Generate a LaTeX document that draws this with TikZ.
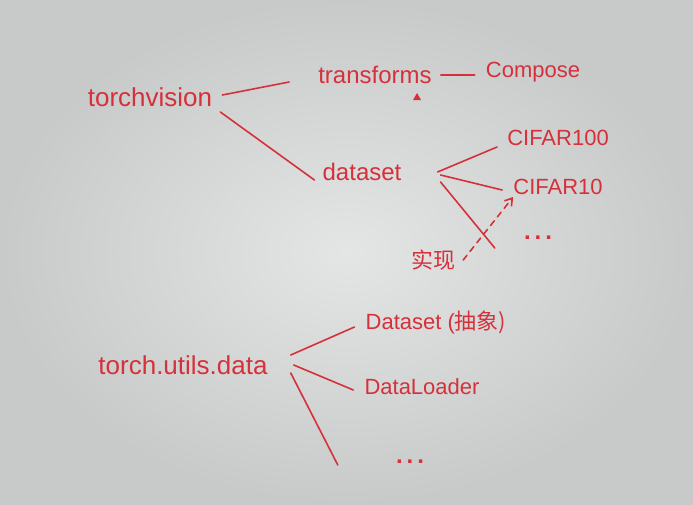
\documentclass[tikz,border=0pt]{standalone}
\usepackage{fontspec}
\setmainfont{Liberation Sans}
\newfontfamily\cjk{Noto Sans CJK SC}
\usetikzlibrary{arrows.meta}

\definecolor{ink}{RGB}{214,48,58}
\definecolor{board}{RGB}{228,230,230}
\definecolor{boardedge}{RGB}{200,202,202}

\tikzset{
  word/.style  = {text=ink, inner sep=2pt, font=\fontsize{24}{28}\selectfont},
  root/.style  = {word, font=\fontsize{26}{30}\selectfont},
  leaf/.style  = {text=ink, inner sep=2pt, font=\fontsize{22}{26}\selectfont},
  dots/.style  = {text=ink, inner sep=2pt, font=\bfseries\fontsize{24}{28}\selectfont},
  link/.style  = {draw=ink, line width=1.6pt, line cap=round},
  hint/.style  = {link, dash pattern=on 6pt off 5pt, -{Straight Barb[length=7pt,width=9pt]}},
}

\begin{document}
\begin{tikzpicture}[x = 1pt, y = -1pt]

\shade[inner color=board, outer color=boardedge] (0,0) rectangle (693,504);
\useasboundingbox (0,0) rectangle (693,504);

\node[root] (tv)  at (150, 97) {torchvision};
\node[word] (tf)  at (375, 75) {transforms};
\node[leaf] (cp)  at (533, 72) {Compose};
\node[word] (ds)  at (362,172) {dataset};
\node[leaf] (c100) at (558,138) {CIFAR100};
\node[leaf] (c10) at (558,187) {CIFAR10};
\node[dots] (dt1) at (538,238) {.\,.\,.};
\node[leaf] (shi) at (433,260) {\cjk 实现};

\node[root] (tud) at (183,365) {torch.utils.data};
\node[leaf] (dsa) at (436,322) {Dataset (\cjk 抽象)};
\node[leaf] (dl)  at (422,387) {DataLoader};
\node[dots] (dt2) at (410,462) {.\,.\,.};

\fill[ink] (413,100) -- (421,100) -- (417,93) -- cycle;

\draw[link] ([xshift=8pt, yshift=2pt]tv.east)    -- ([xshift=-27pt, yshift=-7pt]tf.west);
\draw[link] ([xshift=6pt, yshift=-15pt]tv.east)  -- ([xshift=-6pt, yshift=-8pt]ds.west);
\draw[link] ([xshift=7pt]tf.east)                -- ([xshift=-9pt, yshift=-3pt]cp.west);

\draw[link] ([xshift=34pt]ds.east)               -- ([xshift=-8pt, yshift=-9pt]c100.west);
\draw[link] ([xshift=37pt, yshift=-3pt]ds.east)  -- ([xshift=-9pt, yshift=-3pt]c10.west);
\draw[link] ([xshift=37pt, yshift=-10pt]ds.east) -- ([xshift=-27pt, yshift=-10pt]dt1.west);

\draw[hint] ([xshift=6pt]shi.east) -- ([xshift=2pt]c10.south west);

\draw[link] ([xshift=21pt, yshift=10pt]tud.east) -- ([xshift=-9pt, yshift=-5pt]dsa.west);
\draw[link] ([xshift=24pt]tud.east)              -- ([xshift=-9pt, yshift=-3pt]dl.west);
\draw[link] ([xshift=21pt, yshift=-8pt]tud.east) -- ([xshift=-56pt, yshift=-3pt]dt2.west);

\end{tikzpicture}
\end{document}
